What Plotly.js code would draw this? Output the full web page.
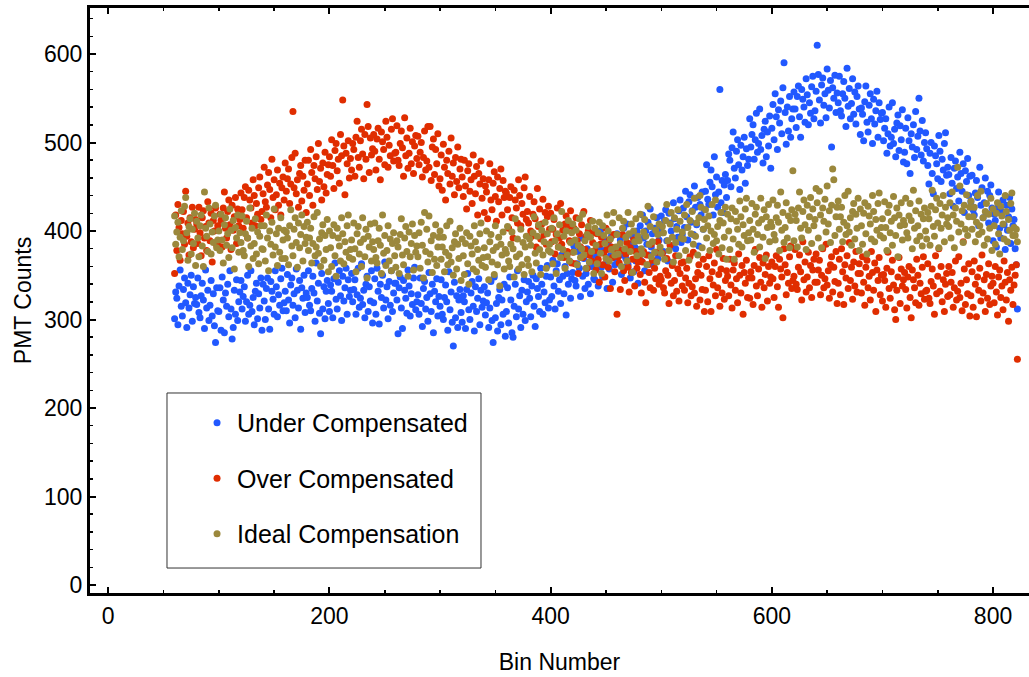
<!DOCTYPE html>
<html>
<head>
<meta charset="utf-8">
<script src="https://cdn.plot.ly/plotly-3.0.1.min.js"></script>
<style>
  html, body { margin: 0; padding: 0; background: #ffffff; }
  #chart { width: 1029px; height: 677px; }
</style>
</head>
<body>
<div id="chart"></div>
<script>
// ---- Data (one value per bin, bins 60..822) ----
const firstBin = 60;

const seriesNames = ["Under Compensated", "Over Compensated", "Ideal Compensation"];

const underCompensated = [
301,331,324,294,338,356,315,304,334,347,319,291,341,313,328,350,298,337,318,325,
317,347,308,302,327,341,322,290,356,313,333,299,316,344,304,329,293,274,336,310,
309,336,288,348,322,285,330,315,340,303,355,312,278,291,333,306,345,299,320,331,
344,312,326,337,298,320,350,306,316,355,309,325,294,332,341,301,329,313,347,288,
340,321,300,335,347,312,289,343,332,323,306,355,337,303,328,316,346,358,310,319,
332,310,351,322,296,339,347,316,329,302,357,333,313,344,289,336,324,350,308,330,
325,355,316,310,335,349,330,298,364,321,341,307,284,352,312,337,301,332,344,318,
309,339,332,302,346,364,323,312,342,355,327,299,349,321,336,358,306,345,326,333,
352,320,334,345,306,328,358,314,324,363,317,333,302,340,349,309,337,321,355,296,
319,346,306,358,332,295,340,325,350,313,365,322,337,301,343,316,355,309,330,341,
341,322,284,336,348,313,290,344,333,324,307,356,338,304,329,317,347,359,311,320,
328,306,347,318,292,335,343,312,325,298,353,329,309,340,285,332,320,346,304,326,
315,345,306,300,325,339,320,288,354,311,331,297,270,342,302,327,291,322,334,308,
297,327,320,290,334,352,311,300,330,343,315,287,337,309,324,346,294,333,314,321,
337,305,319,330,291,313,343,299,274,348,302,318,287,325,334,294,322,306,340,281,
309,336,296,348,322,285,280,315,340,303,355,312,327,291,333,306,345,299,320,331,
343,324,303,338,350,315,292,346,335,326,309,358,340,306,331,319,349,361,313,322,
348,326,367,338,312,355,363,332,345,318,373,349,329,360,305,352,340,366,324,346,
353,383,344,338,363,377,358,326,392,349,369,335,352,380,340,365,329,360,372,346,
345,375,368,338,382,400,359,348,378,391,363,335,385,357,372,394,342,381,362,369,
397,365,379,390,351,373,403,359,369,408,362,378,347,385,394,354,382,366,400,341,
379,406,366,418,392,355,400,385,410,373,425,382,397,361,403,376,415,369,390,401,
417,398,377,412,424,389,366,420,409,400,383,432,414,380,405,393,423,435,387,396,
426,404,445,416,390,433,441,410,423,396,451,427,407,438,383,430,418,444,402,424,
445,475,436,430,455,469,450,418,484,441,461,427,444,560,432,457,421,452,464,438,
457,487,480,450,494,512,471,460,490,503,475,447,497,469,484,506,454,493,474,481,
527,495,509,520,481,503,533,489,499,538,492,508,477,515,524,484,512,496,530,471,
516,543,503,555,529,492,537,522,547,510,562,590,534,498,540,513,552,506,527,538,
557,538,517,552,564,529,506,560,549,540,523,572,554,520,545,533,563,575,527,536,
558,610,577,548,522,565,573,542,555,528,583,559,539,570,495,562,550,576,534,556,
545,575,536,530,555,569,550,518,584,541,561,527,544,572,532,557,521,552,564,538,
509,539,532,502,546,564,523,512,542,555,527,499,549,521,536,558,506,545,526,533,
534,502,516,527,488,510,540,496,506,545,499,515,484,522,531,491,519,503,537,478,
489,516,476,528,502,465,510,495,520,483,535,492,507,550,513,486,525,479,500,511,
493,474,453,488,500,465,442,496,485,476,459,508,490,456,481,469,499,511,463,472,
464,442,483,454,428,471,479,448,461,434,489,465,445,476,421,468,456,482,440,462,
433,463,424,418,443,457,438,406,472,429,449,415,432,460,420,445,409,440,452,426,
389,419,412,382,426,444,403,392,422,435,407,379,429,401,416,438,386,425,406,413,
380,362,312
];

const overCompensated = [
352,418,378,430,404,367,412,397,422,385,445,394,409,373,415,388,427,381,402,413,
408,386,427,398,372,415,423,392,405,378,433,409,389,420,365,412,400,426,384,406,
389,419,412,382,426,444,403,392,422,435,407,379,429,401,416,438,386,425,406,413,
443,424,403,438,450,415,392,446,435,426,409,458,440,406,431,419,449,461,413,422,
442,472,433,427,452,466,447,415,481,438,458,424,441,469,429,454,418,449,461,435,
477,445,459,470,431,453,483,535,449,488,442,458,427,465,474,434,462,446,480,421,
453,480,440,492,466,429,474,459,484,447,499,456,471,435,477,450,489,443,464,475,
484,462,503,474,448,491,499,468,481,454,509,485,548,496,441,488,476,502,460,482,
469,499,492,462,506,524,483,472,502,515,487,459,509,481,543,518,466,505,486,493,
509,490,469,504,516,481,458,512,501,492,475,524,506,472,497,485,515,527,479,488,
489,519,480,474,499,513,494,462,528,485,505,471,488,516,476,501,465,496,508,482,
507,475,489,500,461,483,513,469,479,518,472,518,457,495,504,464,492,476,510,451,
459,486,446,498,472,435,480,465,490,453,505,462,477,441,483,456,495,449,470,481,
461,439,480,451,425,468,476,445,458,431,486,462,442,473,418,465,453,479,437,459,
421,451,444,414,458,476,435,424,454,467,439,411,461,433,448,470,418,457,438,445,
443,424,403,438,450,415,392,446,435,426,409,458,440,406,431,419,449,461,413,422,
409,439,400,394,419,433,414,382,448,405,425,391,408,436,396,421,385,416,428,402,
420,388,402,413,374,396,426,382,392,431,385,401,370,408,417,377,405,389,423,364,
376,403,363,415,389,352,397,382,407,370,422,379,394,358,400,373,412,366,387,398,
378,356,397,368,342,385,393,362,375,348,403,379,359,390,335,382,370,396,354,376,
306,371,364,334,378,396,355,344,374,387,359,331,381,353,368,390,338,377,358,365,
370,351,330,365,377,342,319,373,362,353,336,385,367,333,358,346,376,388,340,349,
345,375,336,330,355,369,350,318,384,341,361,327,344,372,332,357,321,352,364,338,
365,333,347,358,319,341,371,327,337,376,330,346,315,353,362,322,350,334,368,309,
333,360,320,372,346,309,354,339,364,327,379,336,351,315,357,330,369,323,344,355,
349,327,368,339,313,356,364,333,346,319,374,350,330,361,306,353,341,367,325,347,
324,354,347,317,361,379,338,327,357,370,342,314,364,336,351,373,321,360,341,348,
365,346,325,360,372,337,314,368,357,348,302,380,362,328,353,341,371,383,335,344,
349,379,340,334,359,373,354,322,388,345,365,331,348,376,336,361,325,356,368,342,
374,342,356,367,328,350,380,336,346,385,339,355,324,362,371,331,359,343,377,318,
341,368,328,380,354,317,362,347,372,335,387,344,359,323,365,338,377,331,352,363,
352,330,371,342,316,359,367,336,349,322,377,353,333,364,309,356,344,370,328,350,
321,351,344,314,358,376,335,324,354,367,339,311,300,333,348,370,318,357,338,345,
353,334,313,348,360,325,302,356,345,336,319,368,350,316,341,329,359,371,323,332,
333,363,324,318,343,357,338,306,372,329,349,380,332,360,320,345,309,340,352,326,
360,328,342,353,314,336,366,322,332,371,325,341,310,388,357,317,345,329,363,304,
327,354,314,366,340,303,348,333,358,321,373,330,345,309,351,324,363,317,338,349,
341,319,360,331,305,348,356,325,338,311,366,342,322,353,298,345,333,359,317,339,
350,362,255
];

const idealCompensation = [
417,385,399,410,371,393,423,379,389,428,438,398,367,405,414,374,402,386,420,361,
411,392,371,406,418,383,360,444,403,394,377,426,408,374,399,387,417,429,381,390,
400,378,419,390,364,407,415,384,397,370,425,401,381,412,357,404,392,418,376,398,
387,417,378,372,397,411,392,360,426,383,403,369,386,414,374,399,363,394,406,380,
379,406,366,418,392,355,400,385,410,373,425,382,397,361,403,376,415,369,390,401,
369,399,392,362,406,424,383,372,402,415,387,359,409,381,396,418,366,405,386,393,
410,378,392,403,364,386,416,372,382,421,375,391,360,398,407,367,395,379,413,354,
400,381,360,395,407,372,349,403,392,383,366,415,397,363,388,376,406,418,370,379,
390,368,409,380,354,397,405,374,387,360,415,391,371,402,347,394,382,408,366,388,
379,409,370,364,389,403,384,352,418,375,395,361,378,406,366,391,355,386,398,372,
359,389,382,352,396,414,373,362,392,405,377,349,399,371,386,408,356,395,376,383,
371,398,358,410,384,347,421,377,402,365,417,374,389,353,395,368,407,361,382,393,
400,368,382,393,354,376,406,362,372,411,365,381,350,388,397,357,385,369,403,344,
391,372,351,386,398,363,340,394,383,374,357,406,388,354,379,367,397,409,361,370,
381,359,400,371,345,388,396,365,378,351,406,382,362,393,338,385,373,399,357,379,
375,405,366,360,385,399,380,348,414,371,391,357,374,402,362,387,351,382,394,368,
361,391,384,354,398,416,375,364,394,407,379,351,401,373,388,410,358,397,378,385,
376,403,363,415,389,352,397,382,407,370,422,379,394,358,400,373,412,366,387,398,
408,376,390,401,362,384,414,370,380,419,373,389,358,396,405,365,393,377,411,352,
403,384,363,398,410,375,352,406,395,386,369,418,400,366,391,379,409,421,373,382,
396,374,415,386,360,403,411,380,393,366,421,397,377,408,353,400,388,414,372,394,
389,419,380,374,399,413,394,362,428,385,405,371,388,416,376,401,365,396,408,382,
375,405,398,368,412,430,389,378,408,421,393,365,415,387,402,424,372,411,392,399,
391,418,378,430,404,367,412,397,422,385,437,394,409,373,415,440,427,381,402,413,
424,392,406,417,378,400,430,386,396,435,389,405,374,412,421,381,409,393,427,368,
419,400,379,414,426,391,368,422,411,402,385,434,416,382,407,395,425,437,389,398,
412,390,431,402,376,419,427,396,409,382,437,413,393,424,369,416,404,430,388,410,
405,435,396,390,415,429,410,378,444,401,421,387,404,432,392,417,381,412,424,468,
389,419,412,382,426,444,403,392,422,435,407,379,429,401,416,438,386,425,406,413,
448,432,392,445,418,381,426,411,436,399,451,408,423,387,429,470,458,395,416,427,
434,402,416,427,388,410,440,396,406,445,399,415,384,422,431,391,419,403,437,378,
425,406,385,420,432,397,374,428,417,408,391,440,422,388,413,401,431,443,395,404,
414,392,433,404,378,421,429,398,411,384,439,415,395,426,371,418,406,432,390,412,
407,437,398,392,417,431,412,380,446,403,423,389,406,434,394,419,383,414,426,400,
391,421,414,384,428,446,405,394,424,437,409,381,431,403,418,440,388,427,408,415,
405,432,392,444,418,381,426,411,472,399,451,408,423,387,429,402,441,395,416,427,
434,402,416,427,388,410,440,396,406,445,399,415,384,422,431,391,419,403,437,378,
425,406,385,420,432,397,374,428,417,408,391,440,422,388,413,401,431,443,395,404,
395,402,388
];

const seriesColors = ["#2158ff", "#e02d00", "#9b883c"];

// ---- Build traces ----
const seriesValues = [underCompensated, overCompensated, idealCompensation];
const traces = seriesValues.map((vals, i) => ({
  type: "scatter",
  mode: "markers",
  name: seriesNames[i],
  legendgroup: "g" + i,
  x: vals.map((_, k) => firstBin + k),
  y: vals,
  marker: { color: seriesColors[i], size: 7, line: { width: 0 } },
  hoverinfo: "x+y+name"
}));

const FONT = "Liberation Sans, Arial, Helvetica, sans-serif";

const axisCommon = {
  showline: true,
  linecolor: "#000",
  linewidth: 3,
  ticks: "inside",
  ticklen: 6,
  tickwidth: 2,
  tickcolor: "#000",
  showgrid: false,
  zeroline: false,
  tickfont: { family: FONT, size: 23, color: "#000" }
};

const layout = {
  width: 1029,
  height: 677,
  margin: { l: 90, r: 0, t: 8, b: 84, pad: 0 },
  paper_bgcolor: "#ffffff",
  plot_bgcolor: "#ffffff",
  font: { family: FONT, color: "#000" },
  showlegend: true,
  xaxis: Object.assign({}, axisCommon, {
    range: [-16.5, 832.5],
    tick0: 0,
    dtick: 200,
    mirror: "allticks",
    minor: { ticks: "inside", ticklen: 3, tickwidth: 1.5, tickcolor: "#000", dtick: 50 },
    title: { text: "Bin Number", font: { family: FONT, size: 23, color: "#000" }, standoff: 27 }
  }),
  yaxis: Object.assign({}, axisCommon, {
    range: [-9, 652],
    tick0: 0,
    dtick: 100,
    mirror: false,
    minor: { ticks: "inside", ticklen: 3, tickwidth: 1.5, tickcolor: "#000", dtick: 20 },
    title: { text: "PMT Counts", font: { family: FONT, size: 23, color: "#000" }, standoff: 6 }
  }),
  shapes: [{
    type: "rect",
    xref: "paper", yref: "paper",
    x0: 0.0820, x1: 0.4164, y0: 0.0427, y1: 0.3419,
    line: { color: "#333", width: 1 },
    fillcolor: "#ffffff",
    layer: "above"
  }],
  legend: {
    x: 0.114, y: 0.330,
    xanchor: "left", yanchor: "top",
    bgcolor: "rgba(0,0,0,0)",
    borderwidth: 0,
    font: { family: FONT, size: 25, color: "#000" },
    traceorder: "grouped",
    tracegroupgap: 20,
    itemsizing: "trace"
  }
};

Plotly.newPlot("chart", traces, layout, { displayModeBar: false, staticPlot: true });
</script>
</body>
</html>
